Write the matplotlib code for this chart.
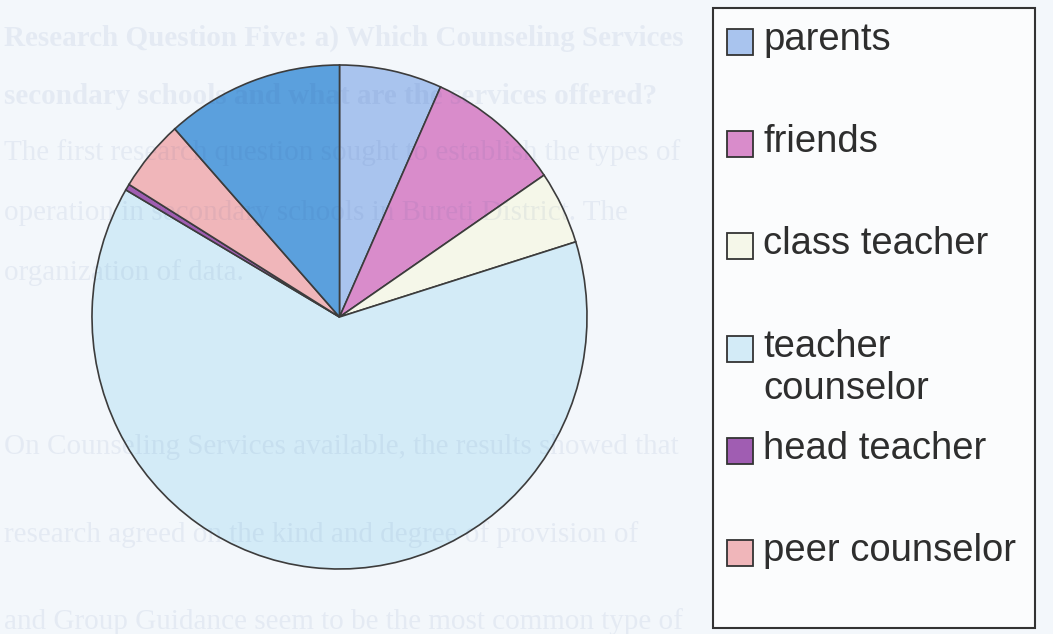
import matplotlib.pyplot as plt
from matplotlib.patches import Rectangle

# slice data, clockwise from 12 o'clock (last slice has no legend entry)
categories = ['parents', 'friends', 'class teacher', 'teacher\ncounselor',
              'head teacher', 'peer counselor', '']
shares = [6.7, 8.8, 4.7, 63.3, 0.4, 4.6, 11.6]
slice_colors = ['#a9c4ee', '#d98ccb', '#f5f7e9', '#d3ebf7',
                '#a05db2', '#f0b6ba', '#5ba0dd']

# faint text from the page showing through the scan (visible left of the legend)
page_lines = [
    ('Research Question Five: a) Which Counseling Services', 38, 'bold'),
    ('secondary schools and what are the services offered?', 97, 'bold'),
    ('The first research question sought to establish the types of Counseling', 153, 'normal'),
    ('operation in secondary schools in Bureti District. The results', 213, 'normal'),
    ('organization of data.', 273, 'normal'),
    ('On Counseling Services available, the results showed that all the three', 447, 'normal'),
    ('research agreed on the kind and degree of provision of Individual', 535, 'normal'),
    ('and Group Guidance seem to be the most common type of Counseling', 622, 'normal'),
]

W, H = 1053, 634


def fx(x):
    return x / W


def fy(y):
    return 1 - y / H


fig = plt.figure(figsize=(W / 100, H / 100), dpi=100, facecolor='#f3f7fb')

# pie
cx, cy, rx, ry = 339.5, 317, 247.5, 252
ax = fig.add_axes([fx(cx - rx), fy(cy + ry), 2 * rx / W, 2 * ry / H])
ax.pie(shares, colors=slice_colors, startangle=90, counterclock=False,
       wedgeprops=dict(edgecolor='#3c3c3c', linewidth=1.2))
ax.set_aspect('auto')
ax.set_xlim(-1, 1)
ax.set_ylim(-1, 1)
ax.axis('off')

# legend drawn by hand: equal slots, two-line label overflows downward
fig.patches.append(Rectangle((fx(713), fy(628)), fx(1035) - fx(713), fy(8) - fy(628),
                             transform=fig.transFigure, facecolor='#fbfcfd',
                             edgecolor='#333333', linewidth=1.5, zorder=1))
slot0, slot_step, box = 42, 102.2, 26
for i, label in enumerate(categories[:6]):
    yc = slot0 + i * slot_step
    fig.patches.append(Rectangle((fx(727), fy(yc + box / 2)), box / W, box / H,
                                 transform=fig.transFigure, facecolor=slice_colors[i],
                                 edgecolor='#333333', linewidth=1.3, zorder=2))
    fig.text(fx(763), fy(yc - 20), label, ha='left', va='top', fontsize=27.5,
             family='Liberation Sans', color='#2e2e2e', linespacing=1.22, zorder=3)

# page text, trimmed word by word so it stops short of the legend box
renderer = fig.canvas.get_renderer()
for line, y, weight in page_lines:
    t = fig.text(fx(4), fy(y), line, ha='left', va='center', fontsize=21,
                 family='Liberation Serif', weight=weight, color='#2b4a8c',
                 alpha=0.07, zorder=4)
    words = line.split()
    while len(words) > 1 and t.get_window_extent(renderer).x1 > 700:
        words = words[:-1]
        t.set_text(' '.join(words))

fig.savefig('out.png', dpi=100, facecolor=fig.get_facecolor())
